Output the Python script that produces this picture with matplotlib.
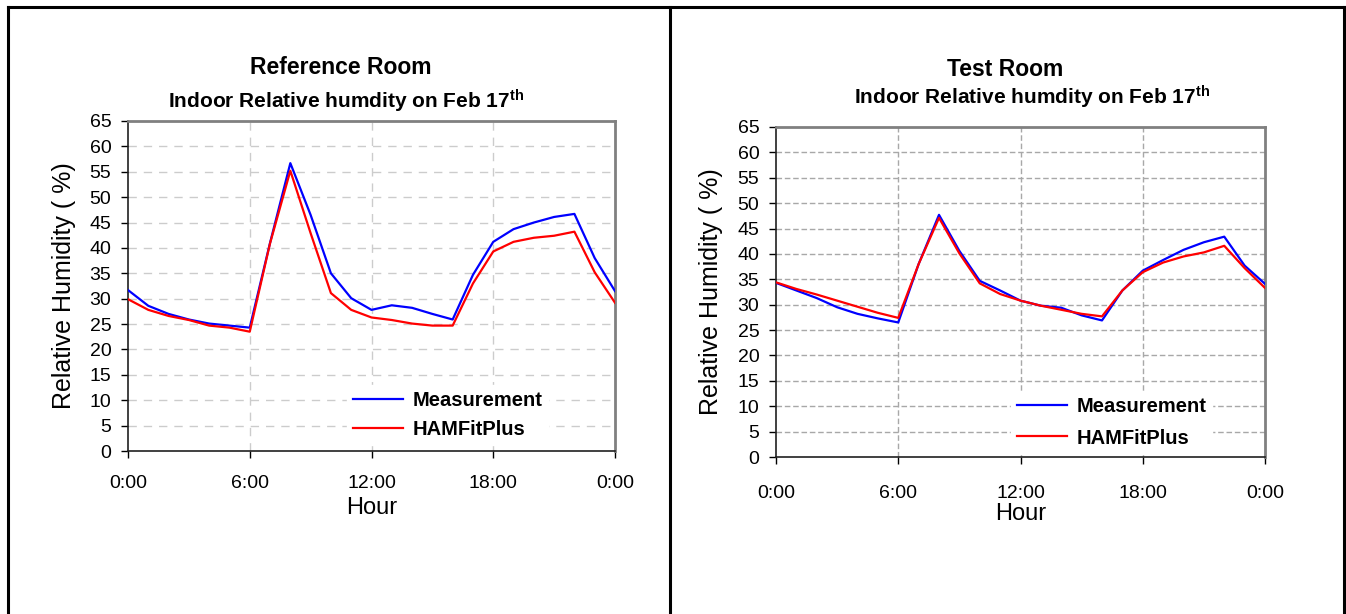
import numpy as np
import matplotlib
matplotlib.use('Agg')
import matplotlib.pyplot as plt
from matplotlib.lines import Line2D

# ── Data ───────────────────────────────────────────────────────────────────
HOURS = list(range(25))
XTICK_LABELS = ['0:00', '6:00', '12:00', '18:00', '0:00']

ref_measured = [31.7, 28.6, 27.0, 25.9, 25.1, 24.7, 24.3, 41.0, 56.7, 46.5,
                35.0, 30.1, 27.8, 28.7, 28.2, 27.0, 25.9, 34.7, 41.2, 43.7,
                45.0, 46.1, 46.7, 38.0, 31.5]
ref_hamfit = [29.9, 27.8, 26.6, 25.8, 24.7, 24.3, 23.5, 40.9, 55.2, 42.9,
              31.1, 27.8, 26.3, 25.8, 25.1, 24.7, 24.7, 33.0, 39.3, 41.2,
              42.0, 42.4, 43.2, 35.2, 29.2]

test_measured = [34.3, 32.8, 31.3, 29.5, 28.2, 27.3, 26.5, 38.0, 47.7, 40.6,
                 34.7, 32.8, 30.8, 29.8, 29.4, 27.9, 26.9, 32.8, 36.7, 38.8,
                 40.8, 42.3, 43.4, 37.7, 34.1]
test_hamfit = [34.4, 33.1, 32.0, 30.8, 29.6, 28.4, 27.4, 38.0, 47.1, 40.1,
               34.2, 32.1, 30.8, 29.8, 29.0, 28.2, 27.7, 32.8, 36.4, 38.3,
               39.5, 40.3, 41.6, 37.2, 33.3]

# ── Style ──────────────────────────────────────────────────────────────────
plt.rcParams['font.family'] = ['Liberation Sans', 'DejaVu Sans']
plt.rcParams['mathtext.fontset'] = 'custom'
plt.rcParams['mathtext.rm'] = 'Liberation Sans:bold'
plt.rcParams['mathtext.it'] = 'Liberation Sans:bold'
plt.rcParams['mathtext.bf'] = 'Liberation Sans:bold'

W, H = 1346, 614
fig = plt.figure(figsize=(W / 100, H / 100), dpi=100)


def px_axes(x0, x1, ytop, ybot):
    return fig.add_axes([x0 / W, (H - ybot) / H, (x1 - x0) / W, (ybot - ytop) / H])


def draw_panel(ax, meas, ham, grid_color, dashes, xpad, leg_anchor, leg_space):
    ax.plot(HOURS, meas, color='#0000ff', lw=1.6, label='Measurement', zorder=3)
    ax.plot(HOURS, ham, color='#ff0000', lw=1.6, label='HAMFitPlus', zorder=3)
    ax.set_xlim(0, 24)
    ax.set_ylim(0, 65)
    ax.set_yticks(np.arange(0, 66, 5))
    ax.set_xticks([0, 6, 12, 18, 24])
    ax.set_xticklabels(XTICK_LABELS)
    ax.tick_params(axis='both', direction='out', length=5, width=1,
                   labelsize=14, colors='black')
    ax.tick_params(axis='x', pad=xpad)
    ax.tick_params(axis='y', pad=7)
    for y in range(5, 65, 5):
        ax.axhline(y, color=grid_color, lw=1, dashes=dashes, zorder=1)
    for x in [6, 12, 18]:
        ax.axvline(x, color=grid_color, lw=1, dashes=dashes, zorder=1)
    for s in ['top', 'right']:
        ax.spines[s].set_color('#808080')
        ax.spines[s].set_linewidth(2)
    for s in ['left', 'bottom']:
        ax.spines[s].set_color('#202020')
        ax.spines[s].set_linewidth(1.2)
    ax.set_ylabel('Relative Humidity ( %)', fontsize=18)
    ax.set_xlabel('Hour', fontsize=17)
    leg = ax.legend(loc='upper left', bbox_to_anchor=leg_anchor, frameon=True,
                    fancybox=False, edgecolor='white', framealpha=1,
                    handlelength=2.5, handletextpad=0.45, labelspacing=leg_space,
                    borderpad=0.3, borderaxespad=0,
                    prop={'weight': 'bold', 'size': 14.5})
    leg.set_zorder(4)
    return ax


# ── Left panel: reference room ─────────────────────────────────────────────
axL = px_axes(128, 615, 121, 451)
draw_panel(axL, ref_measured, ref_hamfit, '#cccccc', (6, 5), 12,
           ((347 - 128) / 487, (451 - 385) / 330), 0.5)
axL.yaxis.set_label_coords((76 - 128) / 487, 0.5)
axL.xaxis.set_label_coords(0.5, (451 - 497) / 330)

fig.text(341 / W, 1 - 67 / H, 'Reference Room', ha='center', va='center',
         fontsize=16.5, fontweight='bold')
fig.text(346 / W, 1 - 101 / H, r'Indoor Relative humdity on Feb 17$^{\rm th}$',
         ha='center', va='center', fontsize=15, fontweight='bold')

# ── Right panel: test room ─────────────────────────────────────────────────
axR = px_axes(776, 1265, 127, 457)
draw_panel(axR, test_measured, test_hamfit, '#a8a8a8', (4, 2), 15,
           ((1011 - 776) / 489, (457 - 391) / 330), 0.62)
axR.yaxis.set_label_coords((723 - 776) / 489, 0.5)
axR.xaxis.set_label_coords(0.5, (457 - 503) / 330)

fig.text(1005 / W, 1 - 70 / H, 'Test Room', ha='center', va='center',
         fontsize=16.5, fontweight='bold')
fig.text(1032 / W, 1 - 97 / H, r'Indoor Relative humdity on Feb 17$^{\rm th}$',
         ha='center', va='center', fontsize=15, fontweight='bold')

# ── Panel borders ──────────────────────────────────────────────────────────
top = 1 - 6.5 / H
for xs, ys in [([7.5 / W, 1343.5 / W], [top, top]),
               ([7.5 / W, 7.5 / W], [0, top]),
               ([670 / W, 670 / W], [0, top]),
               ([1343.5 / W, 1343.5 / W], [0, top])]:
    fig.add_artist(Line2D(xs, ys, transform=fig.transFigure, color='black', lw=2.2))

fig.savefig('out.png', dpi=100)
